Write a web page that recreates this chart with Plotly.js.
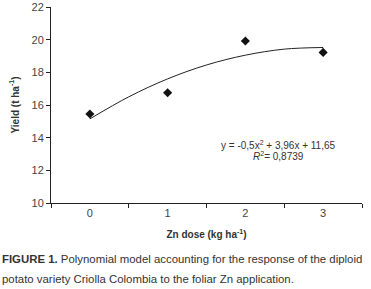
<!DOCTYPE html>
<html>
<head>
<meta charset="utf-8">
<script src="https://cdn.plot.ly/plotly-3.0.1.min.js"></script>
<style>html,body{margin:0;padding:0;background:#fff;}#chart{width:371px;height:289px;}</style>
</head>
<body>
<div id="chart"></div>
<script>
// Observed data
var doses = [0, 1, 2, 3];
var yields = [15.45, 16.75, 19.92, 19.22];
// Trend line
var curveX = [0, 0.5, 1, 1.5, 2, 2.5, 3];
var curveY = [15.15, 16.5, 17.6, 18.45, 19.05, 19.42, 19.52];
var xTickVals = [0, 1, 2, 3];
var xTickText = ['0', '1', '2', '3'];
var xBoundaries = [-0.5, 0.5, 1.5, 2.5, 3.5];
var yTickVals = [10, 12, 14, 16, 18, 20, 22];
var equationText = 'y = -0,5x<sup>2</sup> + 3,96x + 11,65';
var r2Text = '<i>R</i><sup>2</sup>= 0,8739';
var captionLine1 = '<b>FIGURE 1.</b> Polynomial model accounting for the response of the diploid';
var captionLine2 = 'potato variety Criolla Colombia to the foliar Zn application.';

var FONT = 'Liberation Sans, Arial, sans-serif';
var traces = [
  {x: curveX, y: curveY, mode: 'lines', line: {color: '#222', width: 1, shape: 'spline'}, hoverinfo: 'skip', showlegend: false},
  {x: doses, y: yields, mode: 'markers', marker: {symbol: 'diamond', color: '#111', size: 7}, showlegend: false}
];
var layout = {
  width: 371, height: 289,
  margin: {l: 51, r: 9, t: 7, b: 86},
  paper_bgcolor: '#fff', plot_bgcolor: '#fff',
  font: {family: FONT, color: '#333', size: 11},
  xaxis: {
    range: [-0.5, 3.5], showgrid: false, zeroline: false,
    showline: true, linecolor: '#222', linewidth: 1,
    tickmode: 'array', tickvals: xTickVals, ticktext: xTickText, ticks: '',
    minor: {tickmode: 'array', tickvals: xBoundaries, ticks: 'outside', ticklen: 4, tickcolor: '#222', showgrid: false},
    tickfont: {family: FONT, size: 11, color: '#444'},
    title: {text: '<b>Zn dose (kg ha<sup>-1</sup>)</b>', font: {family: FONT, size: 10, color: '#333'}, standoff: 12}
  },
  yaxis: {
    range: [10, 22], showgrid: false, zeroline: false,
    showline: true, linecolor: '#222', linewidth: 1,
    tickmode: 'array', tickvals: yTickVals, ticks: 'outside', ticklen: 4, tickcolor: '#222',
    tickfont: {family: FONT, size: 11, color: '#444'},
    title: {text: '<b>Yield (t ha<sup>-1</sup>)</b>', font: {family: FONT, size: 10, color: '#333'}, standoff: 10}
  },
  annotations: [
    {xref: 'x', yref: 'y', x: 2.42, y: 13.55, text: equationText, showarrow: false, font: {family: FONT, size: 10, color: '#333'}},
    {xref: 'x', yref: 'y', x: 2.43, y: 12.9, text: r2Text, showarrow: false, font: {family: FONT, size: 10, color: '#333'}},
    {xref: 'paper', yref: 'paper', x: -0.164, y: -0.286, xanchor: 'left', yanchor: 'middle', align: 'left', text: captionLine1, showarrow: false, font: {family: FONT, size: 11.4, color: '#333'}},
    {xref: 'paper', yref: 'paper', x: -0.164, y: -0.388, xanchor: 'left', yanchor: 'middle', align: 'left', text: captionLine2, showarrow: false, font: {family: FONT, size: 11.4, color: '#333'}}
  ]
};
Plotly.newPlot('chart', traces, layout, {displayModeBar: false, staticPlot: true});
</script>
</body>
</html>
